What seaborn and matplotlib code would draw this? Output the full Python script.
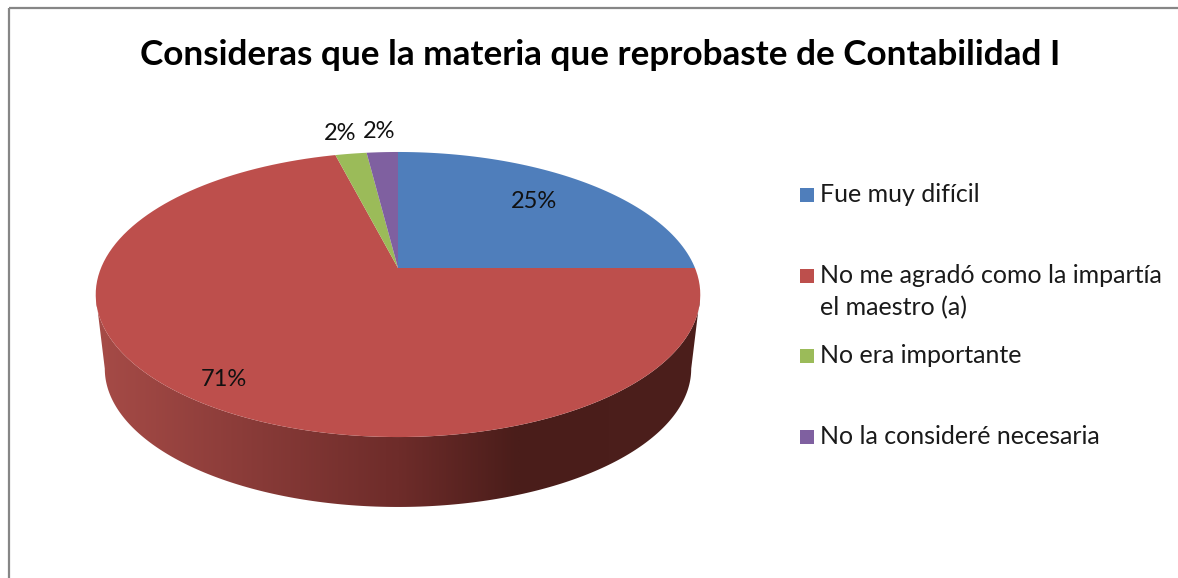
import numpy as np
import pandas as pd
import matplotlib
matplotlib.use("Agg")
import matplotlib.pyplot as plt
import matplotlib.transforms as mtransforms
from matplotlib.patches import Polygon, Rectangle
from matplotlib.path import Path
import seaborn as sns

title = "Consideras que la materia que reprobaste de Contabilidad I"
categories = ["Fue muy difícil", "No me agradó como la impartía\nel maestro (a)",
              "No era importante", "No la consideré necesaria"]
percent = [25, 71, 2, 2]
colors = ["#4f7ebb", "#bd4f4c", "#9bbb59", "#7f60a0"]

# layout, in pixels of the 1178x578 picture
cx, cy = 398, 268
rx, ry, tilt = 297, 137.6, 0.186
side_cy, side_scale = 343, 0.97
label_pos = [(534, 201), (224, 380), (340, 134), (379, 132)]
legend_y = [195, 276, 356, 437]


class Tilt(mtransforms.Transform):
    # perspective of the tilted pie, unit circle to picture pixels
    input_dims = 2
    output_dims = 2

    def __init__(self, y0=cy, scale=1.0):
        super().__init__()
        self.y0 = y0
        self.scale = scale

    def transform_non_affine(self, xy):
        xy = np.asarray(xy, dtype=float)
        w = 1 + tilt * xy[:, 1]
        return np.column_stack([cx + self.scale * rx * xy[:, 0] / w,
                                self.y0 - self.scale * ry * xy[:, 1] / w])

    def transform_path_non_affine(self, path):
        # flatten the bezier arcs first, scaled up so they stay smooth
        big = Path(path.vertices * 1000, path.codes)
        poly = big.to_polygons(closed_only=False)[0] / 1000
        return Path(self.transform_non_affine(poly))


sns.set_theme(style="white")
plt.rcParams["font.family"] = ["Lato", "DejaVu Sans"]

df = pd.DataFrame({"categoria": categories, "pct": percent})

fig, ax = plt.subplots(figsize=(11.78, 5.78), dpi=100)
fig.subplots_adjust(0, 0, 1, 1)

wedges, _ = ax.pie(df["pct"], colors=colors, startangle=90, counterclock=False,
                   wedgeprops={"linewidth": 0})
ax.set_aspect("auto")
ax.set_xlim(0, 1178)
ax.set_ylim(578, 0)
ax.axis("off")

top = Tilt()
for w in wedges:
    w.set_transform(top + ax.transData)
    w.set_zorder(3)

# side of the pie, front half only
t = np.radians(np.linspace(190.7, 349.3, 200))
arc = np.column_stack([np.cos(t), np.sin(t)])
upper = top.transform_non_affine(arc)
lower = Tilt(side_cy, side_scale).transform_non_affine(arc)[::-1]
side = Polygon(np.vstack([upper, lower]), closed=True, transform=ax.transData)

shade = sns.blend_palette(["#a64b47", "#6e2c2a"], 150) + sns.blend_palette(["#6e2c2a", "#4a1d1a"], 60) \
    + sns.blend_palette(["#4a1d1a", "#4c1f1c"], 90)
im = ax.imshow([shade], extent=(96, 700, 510, 290), aspect="auto", zorder=2)
ax.set_xlim(0, 1178)
ax.set_ylim(578, 0)
im.set_clip_path(side)

# chart border, runs off the right and bottom of the picture
ax.add_patch(Rectangle((9, 8), 1300, 700, fill=False, edgecolor="#868686", linewidth=1.6, clip_on=True))

ax.text(600, 55, title, fontsize=25.3, fontweight="bold", color="black", ha="center", va="center", zorder=5)

for (x, y), p in zip(label_pos, percent):
    ax.text(x, y, f"{p}%", fontsize=17, color="#111111", ha="center", va="center", zorder=5)

for y, name, c in zip(legend_y, categories, colors):
    ax.add_patch(Rectangle((800, y - 7), 14, 14, facecolor=c, edgecolor="none"))
    ax.text(820, y - 12, name, fontsize=18, color="#1a1a1a", ha="left", va="top", linespacing=1.45, zorder=5)

fig.savefig("out.png", dpi=100, facecolor="white")
